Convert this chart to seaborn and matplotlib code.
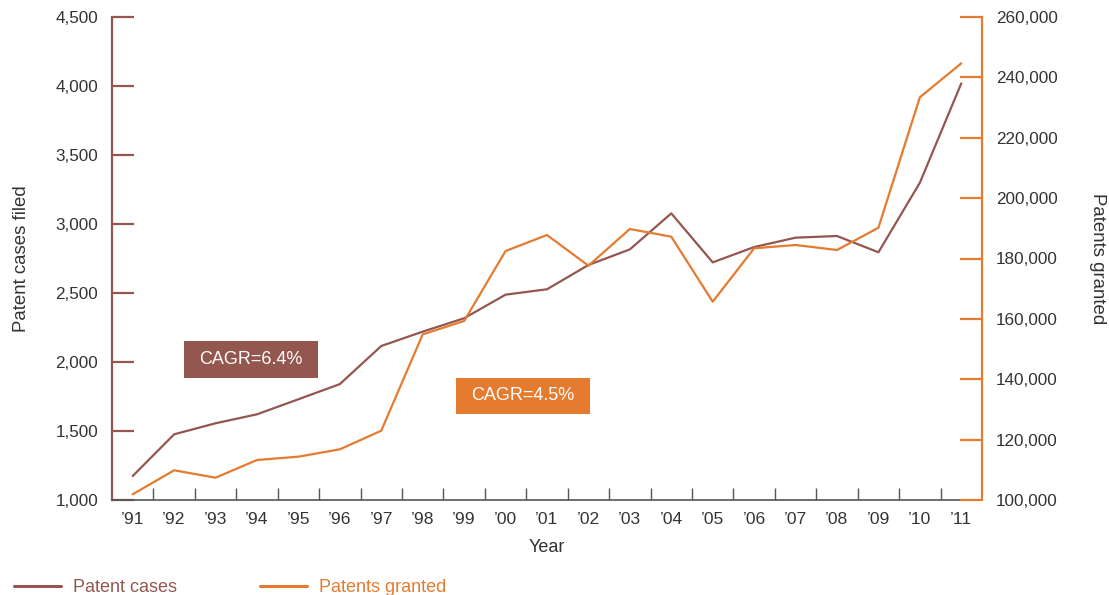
import matplotlib
matplotlib.use("Agg")
import matplotlib.pyplot as plt
import seaborn as sns
import pandas as pd
import numpy as np
from matplotlib.ticker import FuncFormatter, FixedLocator
from matplotlib.lines import Line2D
from matplotlib.patches import Rectangle

years = ["’91", "’92", "’93", "’94", "’95", "’96", "’97", "’98", "’99", "’00", "’01",
         "’02", "’03", "’04", "’05", "’06", "’07", "’08", "’09", "’10", "’11"]
patent_cases = [1174, 1476, 1556, 1621, 1730, 1840, 2116, 2220, 2317, 2488, 2527,
                2703, 2816, 3077, 2722, 2833, 2901, 2913, 2795, 3299, 4019]
patents_granted = [101900, 109840, 107390, 113250, 114350, 116790, 122960, 154880, 159300, 182480, 187780,
                   177620, 189770, 187220, 165690, 183380, 184470, 182810, 190200, 233400, 244660]

BROWN = "#93574F"
ORANGE = "#E57B2F"
TXT = "#333333"

sns.set_theme(style="white")
plt.rcParams["font.family"] = ["Liberation Sans", "DejaVu Sans"]

df = pd.DataFrame({"pos": np.arange(len(years)), "year": years,
                   "cases": patent_cases, "granted": patents_granted})

W, H = 1109, 595
fig = plt.figure(figsize=(W / 100, H / 100), dpi=100)
ax = fig.add_axes([112/W, 95/H, 870/W, 483/H])
ax2 = ax.twinx()

sns.lineplot(data=df, x="pos", y="cases", ax=ax, color=BROWN, lw=1.6, legend=False)
sns.lineplot(data=df, x="pos", y="granted", ax=ax2, color=ORANGE, lw=1.6, legend=False)

ax.set_xlim(-0.5, len(years) - 0.5)
ax.set_ylim(1000, 4500)
ax2.set_ylim(100000, 260000)

ax.set_xticks(df["pos"])
ax.set_xticklabels(years)
ax.xaxis.set_minor_locator(FixedLocator(np.arange(0.5, len(years) - 1, 1.0)))
ax.tick_params(axis="x", which="major", length=0, pad=9, labelsize=12.6, labelcolor=TXT)
ax.tick_params(axis="x", which="minor", length=8.5, width=1, direction="in", color="#555555", bottom=True)

ax.set_yticks(np.arange(1000, 4501, 500))
ax.yaxis.set_major_formatter(FuncFormatter(lambda v, p: f"{int(v):,}"))
ax.tick_params(axis="y", length=16, width=1.6, direction="in", color=BROWN, labelsize=12.3,
               labelcolor=TXT, pad=10, left=True)
ax2.set_yticks(np.arange(100000, 260001, 20000))
ax2.yaxis.set_major_formatter(FuncFormatter(lambda v, p: f"{int(v):,}"))
ax2.tick_params(axis="y", length=16, width=1.6, direction="in", color=ORANGE, labelsize=12.3,
                labelcolor=TXT, pad=10, right=True)

for a in (ax, ax2):
    a.spines["top"].set_visible(False)
ax.spines["right"].set_visible(False)
ax2.spines["left"].set_visible(False)
ax2.spines["bottom"].set_visible(False)
ax.spines["left"].set_color(BROWN)
ax.spines["left"].set_linewidth(1.6)
ax2.spines["right"].set_color(ORANGE)
ax2.spines["right"].set_linewidth(1.6)
ax.spines["bottom"].set_color("#555555")
ax.spines["bottom"].set_linewidth(1.2)

ax.set_xlabel("Year", fontsize=13, color=TXT)
ax.xaxis.set_label_coords(0.5, -(547 - 500) / 483, transform=ax.transAxes)
ax.xaxis.label.set_va("center")
ax.set_ylabel("Patent cases filed", fontsize=13.4, color=TXT)
ax.yaxis.set_label_coords((21 - 112) / 870, 0.5)
ax.yaxis.label.set_va("center")
ax2.set_ylabel("Patents granted", fontsize=13.4, color=TXT, rotation=270)
ax2.yaxis.set_label_coords((1098 - 112) / 870, 0.5)
ax2.yaxis.label.set_va("center")

def cagr_box(x0, y0, x1, y1, color, text):
    fig.patches.append(Rectangle((x0 / W, 1 - y1 / H), (x1 - x0) / W, (y1 - y0) / H,
                                 transform=fig.transFigure, fc=color, ec="none", zorder=5))
    fig.text((x0 + x1) / 2 / W, 1 - (y0 + y1) / 2 / H, text, color="white", fontsize=13,
             ha="center", va="center", zorder=6)

cagr_box(184, 341, 318, 378, BROWN, "CAGR=6.4%")
cagr_box(456, 378, 590, 414, ORANGE, "CAGR=4.5%")

handles = [Line2D([], [], color=BROWN, lw=2.2), Line2D([], [], color=ORANGE, lw=2.2)]
fig.legend(handles, ["Patent cases", "Patents granted"], loc="center left",
           bbox_to_anchor=(14/W, 1 - 588/H), ncol=2, frameon=False, fontsize=13,
           handlelength=2.6, handletextpad=0.67, columnspacing=4.6, labelcolor="linecolor",
           borderaxespad=0, borderpad=0)

fig.savefig("out.png", dpi=100)
